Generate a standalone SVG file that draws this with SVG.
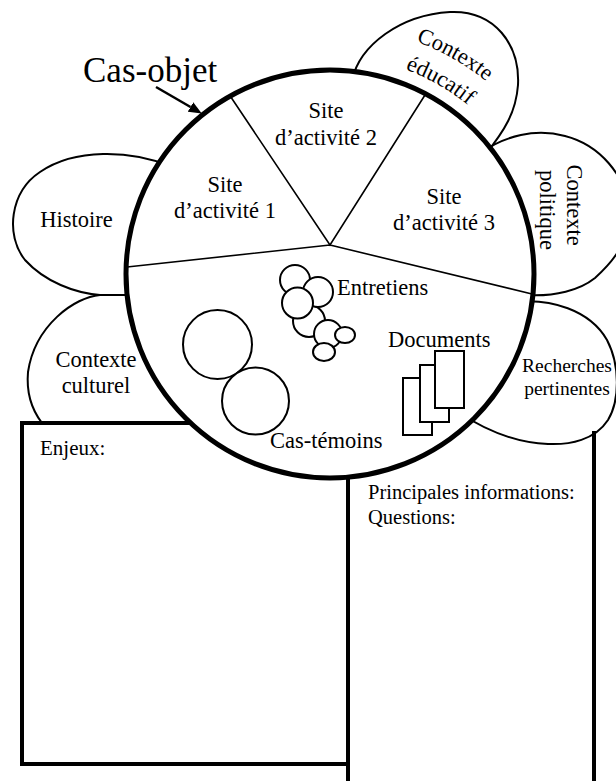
<svg xmlns="http://www.w3.org/2000/svg" width="616" height="781" viewBox="0 0 616 781">
  <style>
    .lbl{font-family:"Liberation Serif","Times New Roman",serif;font-size:22.5px;fill:#000}
    .mid{text-anchor:middle}
    .small{font-size:19.5px}
    .box{font-size:20.5px}
    .lobe{fill:none;stroke:#000;stroke-width:2}
    .sector{fill:none;stroke:#000;stroke-width:1.6}
    .bubble{fill:#fff;stroke:#000;stroke-width:2}
    .doc{fill:#fff;stroke:#000;stroke-width:2}
    .frame{fill:none;stroke:#000;stroke-width:4}
  </style>
  <defs>
    <marker id="arrowhead" markerUnits="userSpaceOnUse" markerWidth="13" markerHeight="11" viewBox="0 0 13 11" refX="0" refY="5.5" orient="auto">
      <path d="M0,0 L13,5.5 L0,11 Z" fill="#000"/>
    </marker>
    <!-- arcs concentric with the main circle, used for the curved label -->
    <path id="arcOuter" d="M285.6,30 A248,248 0 0 1 562.6,187.9"/>
    <path id="arcInner" d="M291.3,59.5 A218,218 0 0 1 534.5,198.4"/>
  </defs>

  <rect width="616" height="781" fill="#fff"/>

  <!-- outer petals (drawn first, their inner ends are hidden by the main circle) -->
  <g id="histoire">
    <path class="lobe" d="M170,166 C130,150 75,148 40,172 C10,192 5,235 25,260 C45,282 75,293 100,295 L140,295"/>
    <text class="lbl mid" x="76.5" y="227">Histoire</text>
  </g>
  <g id="contexte-culturel">
    <path class="lobe" d="M100,295 C75,297 35,325 28,372 C26,395 32,410 42,423"/>
    <text class="lbl mid" x="96" y="367">Contexte</text>
    <text class="lbl mid" x="96" y="393">culturel</text>
  </g>
  <g id="contexte-educatif">
    <path class="lobe" d="M352,80 C360,45 400,15 450,12 C495,10 520,45 518,85 C516,112 505,130 485,155"/>
    <text class="lbl"><textPath href="#arcOuter" startOffset="50%" text-anchor="middle">Contexte</textPath></text>
    <text class="lbl"><textPath href="#arcInner" startOffset="50%" text-anchor="middle">éducatif</textPath></text>
  </g>
  <g id="contexte-politique">
    <path class="lobe" d="M482,152 C505,136 535,128 565,136 C600,145 625,175 630,210 C630,240 615,260 595,278 C580,290 555,297 525,295"/>
    <text class="lbl mid" transform="translate(567,205) rotate(90)">Contexte</text>
    <text class="lbl mid" transform="translate(540,210) rotate(90)">politique</text>
  </g>
  <g id="recherches-pertinentes">
    <path class="lobe" d="M515,302 C550,298 590,310 607,340 C620,365 620,400 608,420 C595,440 570,445 548,444 C520,443 488,432 458,412"/>
    <text class="lbl small mid" x="567" y="372">Recherches</text>
    <text class="lbl small mid" x="567" y="395">pertinentes</text>
  </g>

  <!-- note boxes -->
  <g id="enjeux">
    <path class="frame" d="M22,423 H348 V764 H22 Z"/>
    <text class="lbl box" x="40" y="455" style="font-size:21px">Enjeux:</text>
  </g>
  <g id="informations">
    <path class="frame" d="M348,470 V781 M594,431 V781"/>
    <text class="lbl box" x="368" y="499">Principales informations:</text>
    <text class="lbl box" x="368" y="524">Questions:</text>
  </g>

  <!-- main case circle with its activity sites -->
  <g id="cas-objet">
    <circle cx="330" cy="274" r="204" fill="#fff" stroke="#000" stroke-width="5"/>
    <path class="sector" d="M230.5,96.5 L330,245 L425,95 M330,245 L532,294 M330,245 L127,267"/>
  </g>
  <g id="site-1">
    <text class="lbl mid" x="225" y="192">Site</text>
    <text class="lbl mid" x="225" y="218">d’activité 1</text>
  </g>
  <g id="site-2">
    <text class="lbl mid" x="326" y="118">Site</text>
    <text class="lbl mid" x="326" y="145">d’activité 2</text>
  </g>
  <g id="site-3">
    <text class="lbl mid" x="444" y="204">Site</text>
    <text class="lbl mid" x="444" y="230">d’activité 3</text>
  </g>

  <g id="entretiens">
    <circle class="bubble" cx="309" cy="321" r="16"/>
    <circle class="bubble" cx="295" cy="280" r="15"/>
    <circle class="bubble" cx="318" cy="292" r="15"/>
    <circle class="bubble" cx="297.5" cy="303" r="15.5"/>
    <circle class="bubble" cx="328" cy="334" r="14"/>
    <ellipse class="bubble" cx="345" cy="335" rx="10" ry="8"/>
    <ellipse class="bubble" cx="324" cy="352" rx="11" ry="9"/>
    <text class="lbl" x="337" y="295">Entretiens</text>
  </g>
  <g id="documents">
    <rect class="doc" x="403" y="378" width="29" height="57"/>
    <rect class="doc" x="420" y="365" width="29" height="57"/>
    <rect class="doc" x="435" y="351" width="29" height="57"/>
    <text class="lbl" x="388" y="347">Documents</text>
  </g>
  <g id="cas-temoins">
    <circle class="bubble" cx="217.5" cy="344.5" r="34.5"/>
    <circle class="bubble" cx="255.5" cy="401" r="33.5"/>
    <text class="lbl" x="270" y="448">Cas-témoins</text>
  </g>

  <g id="titre">
    <text class="lbl" x="83" y="82" style="font-size:35px">Cas-objet</text>
  </g>

  <g id="connectors">
    <line x1="156" y1="87" x2="190.5" y2="107" stroke="#000" stroke-width="2.5" marker-end="url(#arrowhead)"/>
  </g>
</svg>
